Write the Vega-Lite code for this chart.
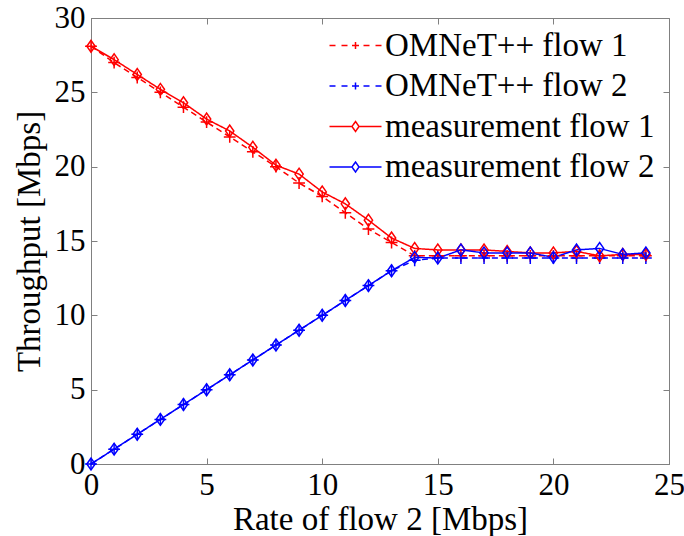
{
  "$schema": "https://vega.github.io/schema/vega-lite/v6.json",
  "autosize": "none",
  "width": 578,
  "height": 446,
  "padding": {"left": 91, "top": 18, "right": 15, "bottom": 72},
  "background": "white",
  "config": {
    "view": {"stroke": "#808080", "strokeWidth": 1},
    "font": "'Liberation Serif', 'DejaVu Serif', serif",
    "axis": {
      "domainColor": "#808080",
      "tickColor": "#808080",
      "grid": false,
      "labelFont": "'Liberation Serif', 'DejaVu Serif', serif",
      "titleFont": "'Liberation Serif', 'DejaVu Serif', serif",
      "labelFontSize": 31,
      "titleFontSize": 33,
      "titleFontWeight": "normal",
      "labelColor": "black",
      "titleColor": "black",
      "tickSize": -6,
      "labelPadding": 12
    }
  },
  "data": {
    "values": [
      {"x": 0, "y": 28.1, "series": "OMNeT++ flow 1"},
      {"x": 1, "y": 27.0, "series": "OMNeT++ flow 1"},
      {"x": 2, "y": 26.0, "series": "OMNeT++ flow 1"},
      {"x": 3, "y": 25.0, "series": "OMNeT++ flow 1"},
      {"x": 4, "y": 24.0, "series": "OMNeT++ flow 1"},
      {"x": 5, "y": 23.0, "series": "OMNeT++ flow 1"},
      {"x": 6, "y": 22.0, "series": "OMNeT++ flow 1"},
      {"x": 7, "y": 21.0, "series": "OMNeT++ flow 1"},
      {"x": 8, "y": 20.0, "series": "OMNeT++ flow 1"},
      {"x": 9, "y": 18.9, "series": "OMNeT++ flow 1"},
      {"x": 10, "y": 18.0, "series": "OMNeT++ flow 1"},
      {"x": 11, "y": 16.9, "series": "OMNeT++ flow 1"},
      {"x": 12, "y": 15.8, "series": "OMNeT++ flow 1"},
      {"x": 13, "y": 14.9, "series": "OMNeT++ flow 1"},
      {"x": 14, "y": 14.0, "series": "OMNeT++ flow 1"},
      {"x": 15, "y": 14.0, "series": "OMNeT++ flow 1"},
      {"x": 16, "y": 14.0, "series": "OMNeT++ flow 1"},
      {"x": 17, "y": 14.0, "series": "OMNeT++ flow 1"},
      {"x": 18, "y": 14.0, "series": "OMNeT++ flow 1"},
      {"x": 19, "y": 14.0, "series": "OMNeT++ flow 1"},
      {"x": 20, "y": 14.0, "series": "OMNeT++ flow 1"},
      {"x": 21, "y": 14.0, "series": "OMNeT++ flow 1"},
      {"x": 22, "y": 14.0, "series": "OMNeT++ flow 1"},
      {"x": 23, "y": 14.0, "series": "OMNeT++ flow 1"},
      {"x": 24, "y": 14.0, "series": "OMNeT++ flow 1"},
      {"x": 0, "y": 0.0, "series": "OMNeT++ flow 2"},
      {"x": 1, "y": 1.0, "series": "OMNeT++ flow 2"},
      {"x": 2, "y": 2.0, "series": "OMNeT++ flow 2"},
      {"x": 3, "y": 3.0, "series": "OMNeT++ flow 2"},
      {"x": 4, "y": 4.0, "series": "OMNeT++ flow 2"},
      {"x": 5, "y": 5.0, "series": "OMNeT++ flow 2"},
      {"x": 6, "y": 6.0, "series": "OMNeT++ flow 2"},
      {"x": 7, "y": 7.0, "series": "OMNeT++ flow 2"},
      {"x": 8, "y": 8.0, "series": "OMNeT++ flow 2"},
      {"x": 9, "y": 9.0, "series": "OMNeT++ flow 2"},
      {"x": 10, "y": 10.0, "series": "OMNeT++ flow 2"},
      {"x": 11, "y": 11.0, "series": "OMNeT++ flow 2"},
      {"x": 12, "y": 12.0, "series": "OMNeT++ flow 2"},
      {"x": 13, "y": 13.0, "series": "OMNeT++ flow 2"},
      {"x": 14, "y": 13.7, "series": "OMNeT++ flow 2"},
      {"x": 15, "y": 13.85, "series": "OMNeT++ flow 2"},
      {"x": 16, "y": 13.85, "series": "OMNeT++ flow 2"},
      {"x": 17, "y": 13.85, "series": "OMNeT++ flow 2"},
      {"x": 18, "y": 13.85, "series": "OMNeT++ flow 2"},
      {"x": 19, "y": 13.85, "series": "OMNeT++ flow 2"},
      {"x": 20, "y": 13.85, "series": "OMNeT++ flow 2"},
      {"x": 21, "y": 13.85, "series": "OMNeT++ flow 2"},
      {"x": 22, "y": 13.85, "series": "OMNeT++ flow 2"},
      {"x": 23, "y": 13.85, "series": "OMNeT++ flow 2"},
      {"x": 24, "y": 13.85, "series": "OMNeT++ flow 2"},
      {"x": 0, "y": 28.1, "series": "measurement flow 1"},
      {"x": 1, "y": 27.2, "series": "measurement flow 1"},
      {"x": 2, "y": 26.2, "series": "measurement flow 1"},
      {"x": 3, "y": 25.2, "series": "measurement flow 1"},
      {"x": 4, "y": 24.3, "series": "measurement flow 1"},
      {"x": 5, "y": 23.2, "series": "measurement flow 1"},
      {"x": 6, "y": 22.4, "series": "measurement flow 1"},
      {"x": 7, "y": 21.3, "series": "measurement flow 1"},
      {"x": 8, "y": 20.1, "series": "measurement flow 1"},
      {"x": 9, "y": 19.5, "series": "measurement flow 1"},
      {"x": 10, "y": 18.3, "series": "measurement flow 1"},
      {"x": 11, "y": 17.5, "series": "measurement flow 1"},
      {"x": 12, "y": 16.4, "series": "measurement flow 1"},
      {"x": 13, "y": 15.2, "series": "measurement flow 1"},
      {"x": 14, "y": 14.5, "series": "measurement flow 1"},
      {"x": 15, "y": 14.4, "series": "measurement flow 1"},
      {"x": 16, "y": 14.4, "series": "measurement flow 1"},
      {"x": 17, "y": 14.4, "series": "measurement flow 1"},
      {"x": 18, "y": 14.3, "series": "measurement flow 1"},
      {"x": 19, "y": 14.2, "series": "measurement flow 1"},
      {"x": 20, "y": 14.2, "series": "measurement flow 1"},
      {"x": 21, "y": 14.3, "series": "measurement flow 1"},
      {"x": 22, "y": 14.0, "series": "measurement flow 1"},
      {"x": 23, "y": 14.1, "series": "measurement flow 1"},
      {"x": 24, "y": 14.1, "series": "measurement flow 1"},
      {"x": 0, "y": 0.0, "series": "measurement flow 2"},
      {"x": 1, "y": 1.0, "series": "measurement flow 2"},
      {"x": 2, "y": 2.0, "series": "measurement flow 2"},
      {"x": 3, "y": 3.0, "series": "measurement flow 2"},
      {"x": 4, "y": 4.0, "series": "measurement flow 2"},
      {"x": 5, "y": 5.0, "series": "measurement flow 2"},
      {"x": 6, "y": 6.0, "series": "measurement flow 2"},
      {"x": 7, "y": 7.0, "series": "measurement flow 2"},
      {"x": 8, "y": 8.0, "series": "measurement flow 2"},
      {"x": 9, "y": 9.0, "series": "measurement flow 2"},
      {"x": 10, "y": 10.0, "series": "measurement flow 2"},
      {"x": 11, "y": 11.0, "series": "measurement flow 2"},
      {"x": 12, "y": 12.0, "series": "measurement flow 2"},
      {"x": 13, "y": 13.0, "series": "measurement flow 2"},
      {"x": 14, "y": 13.9, "series": "measurement flow 2"},
      {"x": 15, "y": 13.85, "series": "measurement flow 2"},
      {"x": 16, "y": 14.4, "series": "measurement flow 2"},
      {"x": 17, "y": 14.2, "series": "measurement flow 2"},
      {"x": 18, "y": 14.2, "series": "measurement flow 2"},
      {"x": 19, "y": 14.2, "series": "measurement flow 2"},
      {"x": 20, "y": 13.9, "series": "measurement flow 2"},
      {"x": 21, "y": 14.4, "series": "measurement flow 2"},
      {"x": 22, "y": 14.5, "series": "measurement flow 2"},
      {"x": 23, "y": 14.1, "series": "measurement flow 2"},
      {"x": 24, "y": 14.2, "series": "measurement flow 2"}
    ]
  },
  "encoding": {
    "x": {
      "field": "x", "type": "quantitative",
      "scale": {"domain": [0, 25], "nice": false, "zero": false}
    },
    "y": {
      "field": "y", "type": "quantitative",
      "scale": {"domain": [0, 30], "nice": false}
    },
    "color": {
      "field": "series", "type": "nominal",
      "scale": {
        "domain": ["OMNeT++ flow 1", "OMNeT++ flow 2", "measurement flow 1", "measurement flow 2"],
        "range": ["#ff0000", "#0000ff", "#ff0000", "#0000ff"]
      },
      "legend": {
        "title": null,
        "orient": "none",
        "legendX": 248,
        "legendY": 11,
        "symbolSize": 400,
        "symbolStrokeWidth": 1.5,
        "labelFont": "'Liberation Serif', 'DejaVu Serif', serif",
        "labelFontSize": 33,
        "labelColor": "black",
        "labelOffset": 13,
        "rowPadding": 6.5,
        "labelLimit": 400,
        "padding": 0,
        "symbolFillColor": "transparent",
        "encode": {
          "symbols": {
            "update": {
              "shape": [
                {"test": "indexof(datum.label, 'OMNeT') >= 0", "value": "M-2.6,0L-2.0,0M-1.4,0L-0.8,0M-0.35,0L0.35,0M0,-0.35L0,0.35M0.8,0L1.4,0M2.0,0L2.6,0"},
                {"value": "M-2.6,0L-0.35,0M0.35,0L2.6,0M-0.35,0L0,-0.5L0.35,0L0,0.5Z"}
              ],
              "strokeDash": {"value": [1, 0]},
              "fill": {"value": "transparent"},
              "size": {"value": 400}
            }
          }
        }
      }
    }
  },
  "layer": [
    {
      "mark": {"type": "line", "strokeWidth": 1.5},
      "encoding": {
        "x": {"field": "x", "type": "quantitative", "axis": {"orient": "bottom", "values": [0, 5, 10, 15, 20, 25], "title": "Rate of flow 2 [Mbps]", "titlePadding": 3, "labelFlush": false, "labelOverlap": false}},
        "y": {"field": "y", "type": "quantitative", "axis": {"orient": "left", "values": [0, 5, 10, 15, 20, 25, 30], "title": "Throughput [Mbps]", "titlePadding": 8, "labelFlush": false, "labelOverlap": false}},
        "strokeDash": {
          "condition": {"test": "indexof(datum.series, 'OMNeT') >= 0", "value": [6, 4]},
          "value": [1, 0]
        }
      }
    },
    {
      "mark": {"type": "point", "filled": false, "strokeWidth": 1.5, "opacity": 1},
      "encoding": {
        "x": {"field": "x", "type": "quantitative", "axis": null},
        "y": {"field": "y", "type": "quantitative", "axis": null},
        "shape": {
          "condition": {"test": "indexof(datum.series, 'OMNeT') >= 0", "value": "M-1,0L1,0M0,-1L0,1"},
          "value": "M-0.7,0L0,-1L0.7,0L0,1Z"
        },
        "size": {"value": 140}
      }
    },
    {
      "mark": {"type": "point", "opacity": 0},
      "encoding": {
        "x": {"field": "x", "type": "quantitative", "axis": {"orient": "top", "values": [0, 5, 10, 15, 20, 25], "labels": false, "title": null, "domain": false}},
        "y": {"field": "y", "type": "quantitative", "axis": {"orient": "right", "values": [0, 5, 10, 15, 20, 25, 30], "labels": false, "title": null, "domain": false}},
        "color": {"value": "transparent"}
      }
    }
  ],
  "resolve": {"axis": {"x": "independent", "y": "independent"}}
}
